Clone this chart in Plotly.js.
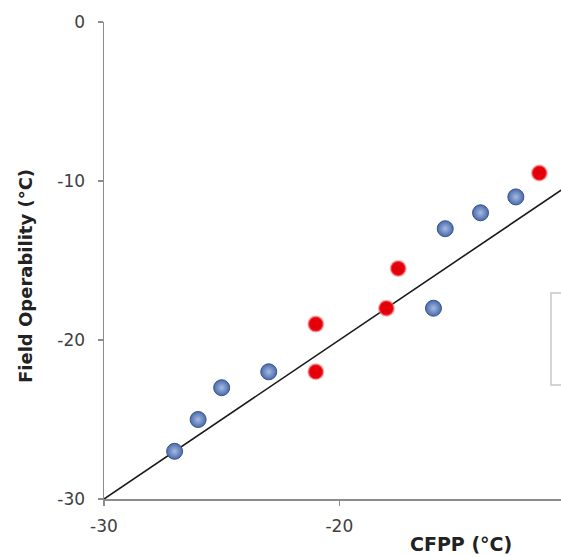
<!DOCTYPE html>
<html>
<head>
<meta charset="utf-8">
<script src="https://cdn.plot.ly/plotly-3.0.1.min.js"></script>
<style>
html, body { margin: 0; padding: 0; overflow: hidden; background: #fff; width: 561px; height: 557px; }
#chart { width: 830px; height: 557px; }
</style>
</head>
<body>
<div id="chart"></div>
<script>
// Data
const blueCFPP = [-27, -26, -25, -23, -16, -15.5, -14, -12.5];
const blueFO   = [-27, -25, -23, -22, -18, -13, -12, -11];
const redCFPP  = [-21, -21, -18, -17.5, -11.5];
const redFO    = [-19, -22, -18, -15.5, -9.5];
const lineX = [-30, 0];
const lineY = [-30, 0];
const xTicks = [-30, -20, -10, 0];
const yTicks = [-30, -20, -10, 0];
const xTitle = 'CFPP (°C)';
const yTitle = 'Field Operability (°C)';

const traces = [
  {
    x: lineX, y: lineY, type: 'scatter', mode: 'lines',
    line: { color: '#1a1a1a', width: 1.6 },
    showlegend: false, hoverinfo: 'skip'
  },
  {
    x: blueCFPP, y: blueFO, type: 'scatter', mode: 'markers', name: 'Series A',
    marker: { size: 16, color: '#4a6aaa', gradient: { type: 'radial', color: '#a6bbe4' },
              line: { color: '#34548f', width: 1 } }
  },
  {
    x: redCFPP, y: redFO, type: 'scatter', mode: 'markers', name: 'Series B',
    marker: { size: 15, color: '#e3000b', line: { color: 'rgba(255,110,110,0.55)', width: 2 } }
  }
];

const tickFont = { family: 'DejaVu Sans, sans-serif', size: 17, color: '#404040' };
const titleFont = { family: 'DejaVu Sans, sans-serif', color: '#222222', weight: 'bold' };

const axisCommon = {
  showgrid: false, zeroline: false, showline: true, linecolor: '#8c8c8c', linewidth: 1.5,
  ticks: 'outside', ticklen: 5, tickcolor: '#8c8c8c', tickwidth: 1.2,
  tickfont: tickFont
};

const layout = {
  width: 830, height: 557,
  margin: { l: 104, r: 20, t: 22, b: 58 },
  paper_bgcolor: '#ffffff', plot_bgcolor: '#ffffff',
  showlegend: false,
  xaxis: Object.assign({}, axisCommon, {
    range: [-30, 0], tickvals: xTicks, ticktext: xTicks.map(String), ticklabelstandoff: 6
  }),
  yaxis: Object.assign({}, axisCommon, {
    range: [-30, 0], tickvals: yTicks, ticktext: yTicks.map(String), ticklabelstandoff: 9
  }),
  annotations: [
    { text: xTitle, xref: 'paper', yref: 'paper', x: 0.5057, y: -0.0943,
      xanchor: 'center', yanchor: 'middle', showarrow: false,
      font: Object.assign({ size: 19 }, titleFont) },
    { text: yTitle, xref: 'paper', yref: 'paper', x: -0.1119, y: 0.4675,
      xanchor: 'center', yanchor: 'middle', showarrow: false, textangle: -90,
      font: Object.assign({ size: 18 }, titleFont) }
  ],
  shapes: [
    // legend frame, partly visible at the cropped right edge
    { type: 'rect', xref: 'paper', yref: 'paper', x0: 0.6331, x1: 0.95, y0: 0.239, y1: 0.4319,
      line: { color: '#c8c8c8', width: 1.5 }, fillcolor: '#ffffff', layer: 'below' }
  ]
};

Plotly.newPlot('chart', traces, layout, { displayModeBar: false, staticPlot: true });
</script>
</body>
</html>
